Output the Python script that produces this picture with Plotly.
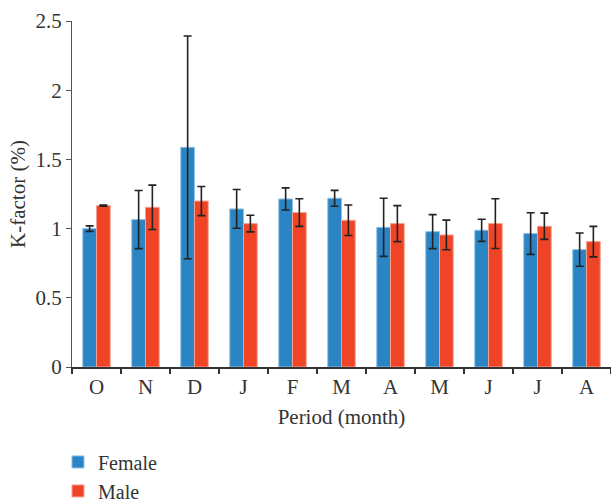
import plotly.graph_objects as go

months = ["O", "N", "D", "J", "F", "M", "A", "M", "J", "J", "A"]
female = [1.00, 1.065, 1.587, 1.142, 1.214, 1.219, 1.009, 0.978, 0.988, 0.964, 0.848]
female_err = [0.02, 0.21, 0.805, 0.14, 0.08, 0.057, 0.21, 0.123, 0.08, 0.15, 0.12]
male = [1.166, 1.154, 1.199, 1.036, 1.116, 1.060, 1.036, 0.954, 1.036, 1.017, 0.906]
male_err = [0.004, 0.16, 0.105, 0.06, 0.10, 0.11, 0.13, 0.107, 0.18, 0.095, 0.11]
y_ticks = [0, 0.5, 1, 1.5, 2, 2.5]
y_ticktext = ["0", "0.5", "1", "1.5", "2", "2.5"]

xpos = list(range(len(months)))
FONT = "Liberation Serif"
FS = 21
err_style = dict(type="data", thickness=1.6, width=4, color="#222222")

fig = go.Figure()
fig.add_trace(go.Bar(
    x=xpos, y=female, name="Female",
    marker=dict(color="#2b84c4", line=dict(color="#8fbfe3", width=1)),
    error_y=dict(array=female_err, **err_style),
))
fig.add_trace(go.Bar(
    x=xpos, y=male, name="Male",
    marker=dict(color="#ef4426", line=dict(color="#f7a08f", width=1)),
    error_y=dict(array=male_err, **err_style),
))

fig.update_layout(
    width=611, height=503,
    margin=dict(l=72, r=0, t=21, b=136, autoexpand=False),
    paper_bgcolor="white", plot_bgcolor="white",
    barmode="group", bargap=0.44, bargroupgap=0,
    font=dict(family=FONT, size=FS, color="#333333"),
    showlegend=True,
    legend=dict(orientation="v", x=-0.026, xanchor="left", y=-0.218, yanchor="top",
                font=dict(family=FONT, size=20, color="#333333"),
                itemwidth=30, tracegroupgap=0),
)
fig.update_xaxes(
    range=[-0.5, 10.5], tickvals=xpos, ticktext=months, ticks="",
    showline=True, linecolor="#333333", linewidth=1.5, showgrid=False, zeroline=False,
    tickfont=dict(family=FONT, size=FS, color="#333333"),
    minor=dict(tick0=-0.5, dtick=1, ticks="outside", ticklen=5, tickcolor="#333333", tickwidth=1.5, showgrid=False),
    title=dict(text="Period (month)", font=dict(family=FONT, size=FS, color="#333333"), standoff=11),
)
fig.update_yaxes(
    range=[0, 2.5], tickvals=y_ticks, ticktext=y_ticktext, ticks="outside", ticklen=5,
    tickcolor="#555555", tickwidth=1,
    showline=True, linecolor="#555555", linewidth=1, showgrid=False, zeroline=False,
    tickfont=dict(family=FONT, size=FS, color="#333333"),
    title=dict(text="K-factor (%)", font=dict(family=FONT, size=FS, color="#333333"), standoff=4),
)

fig.write_html("out.html", config={"displayModeBar": False},
               post_script="document.body.style.margin='0';document.body.style.overflow='hidden';")
